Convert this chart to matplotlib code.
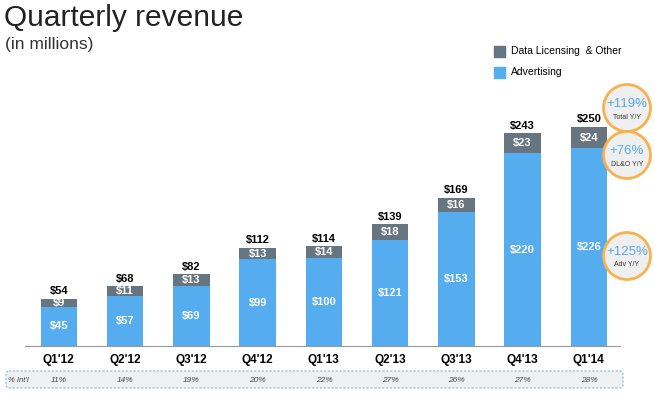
import matplotlib.pyplot as plt
from matplotlib.patches import Circle, FancyBboxPatch

plt.rcParams['font.family'] = ['Liberation Sans', 'DejaVu Sans']

quarters = ["Q1'12", "Q2'12", "Q3'12", "Q4'12", "Q1'13", "Q2'13", "Q3'13", "Q4'13", "Q1'14"]
advertising = [45, 57, 69, 99, 100, 121, 153, 220, 226]
data_licensing = [9, 11, 13, 13, 14, 18, 16, 23, 24]
totals = [54, 68, 82, 112, 114, 139, 169, 243, 250]
intl_share = ['11%', '14%', '19%', '20%', '22%', '27%', '26%', '27%', '28%']
growth_vals = ['+119%', '+76%', '+125%']
growth_names = ['Total Y/Y', 'DL&O Y/Y', 'Adv Y/Y']

blue = '#55acee'
gray = '#66757f'

W, H = 655, 394
fig = plt.figure(figsize=(W / 100, H / 100), dpi=100)

# main axes placed in pixel terms
ax = fig.add_axes([25 / W, (H - 346) / H, 595 / W, 306 / H])
x = list(range(len(quarters)))
ax.bar(x, advertising, width=0.55, color=blue)
ax.bar(x, data_licensing, width=0.55, bottom=advertising, color=gray)
ax.set_xlim(-0.51, 8.47)
ax.set_ylim(0, 306 / 0.876)

for i in x:
    a, d, t = advertising[i], data_licensing[i], totals[i]
    ax.text(i, a / 2, '$%d' % a, ha='center', va='center', color='white',
            fontsize=8, fontweight='bold')
    ax.text(i, a + d / 2, '$%d' % d, ha='center', va='center', color='white',
            fontsize=8, fontweight='bold')
    ax.text(i, t + 3, '$%d' % t, ha='center', va='bottom', color='black',
            fontsize=8, fontweight='bold')

ax.set_xticks(x)
ax.set_xticklabels(quarters, fontsize=8.5, fontweight='bold')
ax.tick_params(axis='x', length=0, pad=6)
ax.set_yticks([])
for s in ['top', 'right', 'left']:
    ax.spines[s].set_visible(False)
ax.spines['bottom'].set_color('#999999')

# title
fig.text(4 / W, 1 - 18 / H, 'Quarterly revenue', fontsize=21.5, va='center', ha='left',
         color='#222222')
fig.text(5 / W, 1 - 44 / H, '(in millions)', fontsize=12.5, va='center', ha='left',
         color='#333333')

# legend
fig.patches.append(plt.Rectangle((494 / W, 1 - 57 / H), 11 / W, 11 / H,
                                 transform=fig.transFigure, color=gray))
fig.text(511 / W, 1 - 51 / H, 'Data Licensing  & Other', fontsize=7.5, va='center')
fig.patches.append(plt.Rectangle((494 / W, 1 - 78 / H), 11 / W, 11 / H,
                                 transform=fig.transFigure, color=blue))
fig.text(511 / W, 1 - 72 / H, 'Advertising', fontsize=7.5, va='center')

# growth circles
cax = fig.add_axes([0, 0, 1, 1], facecolor='none')
cax.set_xlim(0, W)
cax.set_ylim(H, 0)
cax.axis('off')
for cy, val, name in zip([108, 155, 256], growth_vals, growth_names):
    cax.add_patch(Circle((627, cy), 23.5, facecolor='#efefef', edgecolor='#f7b24f', lw=2))
    cax.text(627, cy - 4, val, ha='center', va='center', color='#5aa8e6', fontsize=9.5)
    cax.text(627, cy + 9, name, ha='center', va='center', color='#333333', fontsize=5)

# intl row
cax.add_patch(FancyBboxPatch((6, 371), 617, 17, boxstyle='round,pad=0,rounding_size=3',
                             facecolor='#eef0f2', edgecolor='#8fb8dc', lw=0.8,
                             linestyle=(0, (2, 1.5))))
cax.text(8, 380, '% Int\'l', fontsize=5.5, style='italic', va='center', color='#444444')
for i, p in enumerate(intl_share):
    cax.text(59 + 66.25 * i, 380, p, fontsize=6, style='italic', va='center',
             ha='center', color='#444444')

fig.savefig('out.png', dpi=100)
